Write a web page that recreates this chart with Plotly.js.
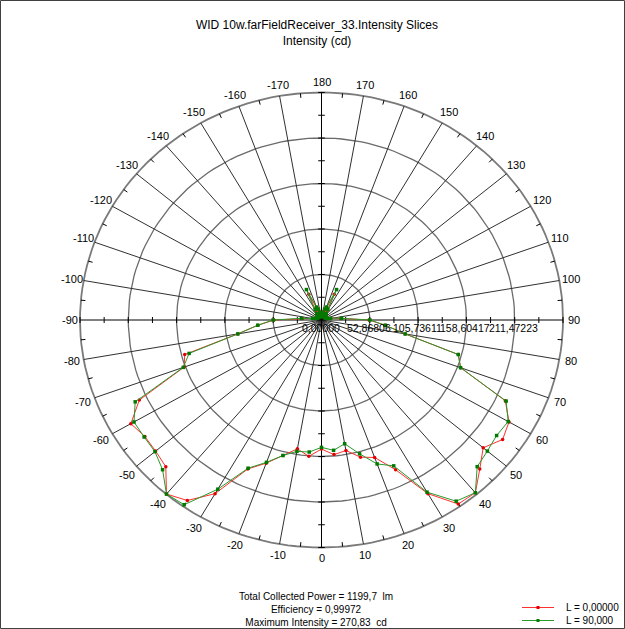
<!DOCTYPE html>
<html><head><meta charset="utf-8">
<script src="https://cdn.plot.ly/plotly-3.0.1.min.js"></script>
<style>html,body{margin:0;padding:0;background:#fff}#chart{width:625px;height:629px}</style>
</head><body><div id="chart"></div>
<script>
// ---------- data ----------
const chartTitle = 'WID 10w.farFieldReceiver_33.Intensity Slices';
const chartSubtitle = 'Intensity (cd)';
const seriesNames = ['L = 0,00000', 'L = 90,000'];
const thetaDeg = [-180,-175,-170,-165,-160,-155,-150,-145,-140,-135,-130,-125,-120,-115,-110,-105,-100,-95,
  -90,-85,-80,-75,-70,-65,-60,-55,-50,-45,-40,-35,-30,-25,-20,-15,-10,-5,0,5,10,15,20,25,30,35,40,45,50,55,60,65,70,75,80,85,90,
  95,100,105,110,115,120,125,130,135,140,145,150,155,160,165,170,175,180];
const intensityL0 = [4,5,8,11,15,33,13,9,7,6,5,5,5,5,6,7,10,21,
  52,70,93,155,160,220,241,236,237,241,264,256,233,191,177,163,152,159,150,157,154,165,170,192,233,261,262,245,231,242,237,222,162,155,93,70,52,
  21,10,7,6,5,5,5,5,6,7,9,13,33,15,11,8,5,4];
const intensityL90 = [4,6,9,13,16,39,14,9,7,6,5,5,5,5,6,7,10,22,
  53,70,93,150,161,225,237,237,238,246,264,262,227,190,176,163,155,154,148,152,146,161,178,187,231,257,262,241,237,234,236,223,162,155,93,70,53,
  22,10,7,6,5,5,5,5,6,7,9,14,39,16,13,9,6,4];
const radialTickValues = [0, 52.86806, 105.73611, 158.60417, 211.47223];
const radialTickLabels = ['0,00000', '52,86806', '105,73611', '158,60417', '211,47223'];
const angleTickValues = [-170,-160,-150,-140,-130,-120,-110,-100,-90,-80,-70,-60,-50,-40,-30,-20,-10,0,10,20,30,40,50,60,70,80,90,100,110,120,130,140,150,160,170,180];
const footerLines = ['Total Collected Power = 1199,7  lm', 'Efficiency = 0,99972', 'Maximum Intensity = 270,83  cd'];

// ---------- geometry ----------
const W = 625, H = 629;
const CX = 321.5, CY = 320;      // pixel centre
const RXPX = 241.5, RYPX = 227.5;  // outer ellipse radii in px
const RSTEP = 52.868058;
const RMAX = RSTEP * 5;
const kx = RXPX / RMAX, ky = RYPX / RMAX;
const M = {l: 47, r: 30, t: 62, b: 51};
const PW = W - M.l - M.r, PH = H - M.t - M.b;
const xr = [(M.l - CX) / kx, (W - M.r - CX) / kx];
const yr = [-(H - M.b - CY) / ky, (CY - M.t) / ky];
const rad = d => d * Math.PI / 180;
const toX = (r, t) => r * Math.sin(rad(t));
const toY = (r, t) => -r * Math.cos(rad(t));
const pX = px => (px - M.l) / PW;
const pY = py => (H - M.b - py) / PH;
const FONT = 'Arial, "Liberation Sans", sans-serif';

const traces = [];
// circles
function ellipse(r) {
  const xs = [], ys = [];
  for (let a = 0; a <= 360; a += 2) { xs.push(toX(r, a)); ys.push(toY(r, a)); }
  return {xs, ys};
}
for (let i = 1; i <= 5; i++) {
  const e = ellipse(RSTEP * i);
  traces.push({x: e.xs, y: e.ys, mode: 'lines', line: {color: i === 5 ? '#7a7a7a' : '#6a6a6a', width: i === 5 ? 1.8 : 1.3},
    hoverinfo: 'skip', showlegend: false});
}
// spokes
{
  const xs = [], ys = [];
  angleTickValues.forEach(a => {
    if (a % 90 === 0) return;
    xs.push(0, toX(RMAX, a), null); ys.push(0, toY(RMAX, a), null);
  });
  traces.push({x: xs, y: ys, mode: 'lines', line: {color: '#303030', width: 1}, hoverinfo: 'skip', showlegend: false});
}
// main axes + ticks
{
  const xs = [-RMAX, RMAX, null, 0, 0, null], ys = [0, 0, null, -RMAX, RMAX, null];
  for (let i = 1; i <= 10; i++) {
    const r = RSTEP / 2 * i;
    [1, -1].forEach(s => {
      xs.push(s * r, s * r, null); ys.push(-3 / ky, 3 / ky, null);
      xs.push(-3.3 / kx, 3.3 / kx, null); ys.push(s * r, s * r, null);
    });
  }
  // outer minor ticks every 5 deg (odd)
  for (let a = -175; a <= 180; a += 10) {
    const s = Math.sin(rad(a)), c = Math.cos(rad(a));
    xs.push(RMAX * s, RMAX * s - 4.5 * s / kx, null);
    ys.push(-RMAX * c, -RMAX * c + 4.5 * c / ky, null);
  }
  traces.push({x: xs, y: ys, mode: 'lines', line: {color: '#000', width: 1}, hoverinfo: 'skip', showlegend: false});
}
// data series
const series = [
  {name: seriesNames[0], r: intensityL0, lc: '#ff3030', mc: '#e00000', sym: 'circle'},
  {name: seriesNames[1], r: intensityL90, lc: '#2a9a2a', mc: '#007a00', sym: 'square'}
];
series.forEach(s => {
  traces.push({
    name: s.name, type: 'scatter', mode: 'lines+markers',
    x: thetaDeg.map((t, i) => toX(s.r[i], t)),
    y: thetaDeg.map((t, i) => toY(s.r[i], t)),
    line: {color: s.lc, width: 1}, marker: {color: s.mc, size: 3.5, symbol: s.sym},
    cliponaxis: false, hoverinfo: 'skip', showlegend: false
  });
});

const annotations = [];
angleTickValues.forEach(a => {
  const s = Math.sin(rad(a)), c = Math.cos(rad(a));
  const off = 10.5 + 2.5 * Math.abs(s * c) * 2;
  annotations.push({x: toX(RMAX, a), y: toY(RMAX, a), xref: 'x', yref: 'y', text: String(a), showarrow: false,
    xshift: off * s, yshift: -off * c, xanchor: 'center', yanchor: 'middle', font: {family: FONT, size: 11, color: '#000'}});
});
radialTickValues.forEach((r, i) => {
  annotations.push({x: r, y: 0, xref: 'x', yref: 'y', text: radialTickLabels[i], showarrow: false,
    yshift: -8, xshift: -1, xanchor: 'center', yanchor: 'middle', font: {family: FONT, size: 10.5, color: '#000'}});
});
// footer (one wrapped text block)
annotations.push({x: pX(316), y: pY(609), xref: 'paper', yref: 'paper', text: footerLines.join('<br>'), showarrow: false,
  xanchor: 'center', yanchor: 'middle', align: 'center', font: {family: FONT, size: 10, color: '#000'}});
// manual legend
const shapes = [];
const legY = [607.5, 620.5];
series.forEach((s, i) => {
  shapes.push({type: 'line', xref: 'paper', yref: 'paper', x0: pX(522), x1: pX(554), y0: pY(legY[i]), y1: pY(legY[i]),
    line: {color: s.lc, width: 1}});
  shapes.push({type: 'rect', xref: 'paper', yref: 'paper', x0: pX(536.5), x1: pX(539.5), y0: pY(legY[i] - 1.5), y1: pY(legY[i] + 1.5),
    line: {width: 0}, fillcolor: s.mc});
});
annotations.push({x: pX(564), y: pY(614), xref: 'paper', yref: 'paper', text: seriesNames.join('<br>'), showarrow: false,
  xanchor: 'left', yanchor: 'middle', align: 'left', font: {family: FONT, size: 10, color: '#000'}});
// frame
shapes.push({type: 'rect', xref: 'paper', yref: 'paper', x0: pX(0.5), x1: pX(624.5), y0: pY(0.5), y1: pY(628.5),
  line: {color: '#404040', width: 1}, fillcolor: 'rgba(0,0,0,0)'});

const layout = {
  width: W, height: H, autosize: false, margin: M, paper_bgcolor: '#fff', plot_bgcolor: '#fff',
  showlegend: false, hovermode: false,
  title: {text: chartTitle + '<br>' + chartSubtitle, font: {family: FONT, size: 12, color: '#000'},
    xref: 'container', yref: 'container', x: 317 / W, xanchor: 'center', y: 1 - 29 / H, yanchor: 'top'},
  xaxis: {range: xr, visible: false, fixedrange: true},
  yaxis: {range: yr, visible: false, fixedrange: true},
  annotations, shapes
};
Plotly.newPlot('chart', traces, layout, {staticPlot: true, displayModeBar: false});
</script></body></html>
